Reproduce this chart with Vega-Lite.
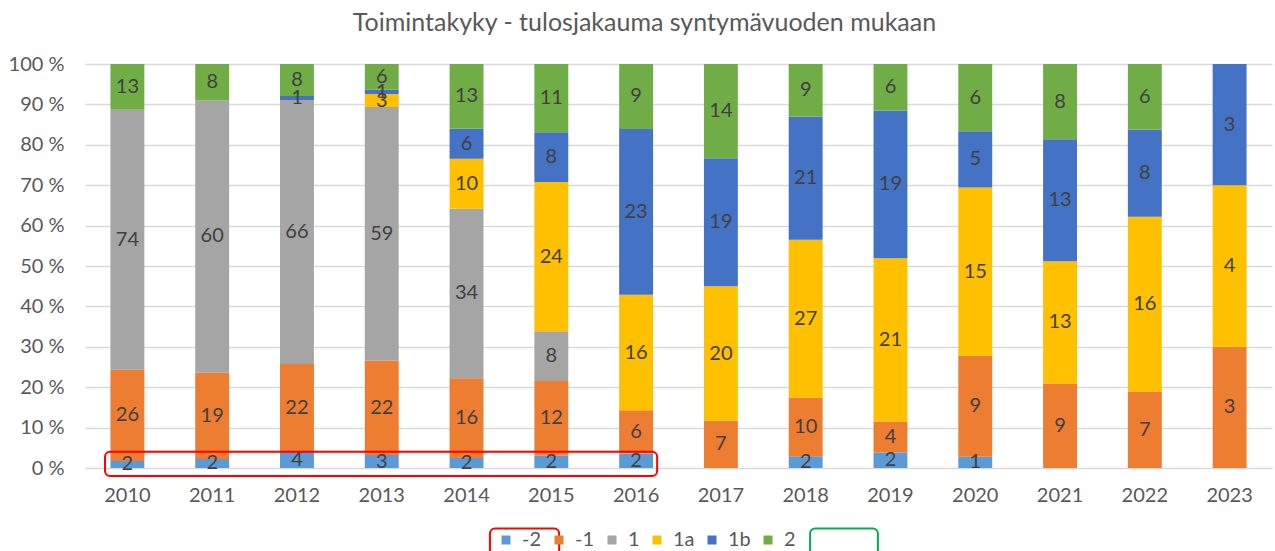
{
  "$schema": "https://vega.github.io/schema/vega-lite/v6.json",
  "width": 1187,
  "height": 404,
  "autosize": {"type": "none"},
  "padding": {"left": 85, "top": 64, "right": 3, "bottom": 83},
  "background": "white",
  "config": {
    "font": "Lato",
    "view": {"stroke": null}
  },
  "title": {
    "text": "Toimintakyky - tulosjakauma syntymävuoden mukaan",
    "fontSize": 25,
    "fontWeight": "normal",
    "color": "#595959",
    "anchor": "middle",
    "dx": -34,
    "offset": 18
  },
  "datasets": {
    "main": [
      {"year": "2010", "s": "-2", "o": 1, "n": 2},
      {"year": "2010", "s": "-1", "o": 2, "n": 26},
      {"year": "2010", "s": "1", "o": 3, "n": 74},
      {"year": "2010", "s": "2", "o": 6, "n": 13},
      {"year": "2011", "s": "-2", "o": 1, "n": 2},
      {"year": "2011", "s": "-1", "o": 2, "n": 19},
      {"year": "2011", "s": "1", "o": 3, "n": 60},
      {"year": "2011", "s": "2", "o": 6, "n": 8},
      {"year": "2012", "s": "-2", "o": 1, "n": 4},
      {"year": "2012", "s": "-1", "o": 2, "n": 22},
      {"year": "2012", "s": "1", "o": 3, "n": 66},
      {"year": "2012", "s": "1b", "o": 5, "n": 1},
      {"year": "2012", "s": "2", "o": 6, "n": 8},
      {"year": "2013", "s": "-2", "o": 1, "n": 3},
      {"year": "2013", "s": "-1", "o": 2, "n": 22},
      {"year": "2013", "s": "1", "o": 3, "n": 59},
      {"year": "2013", "s": "1a", "o": 4, "n": 3},
      {"year": "2013", "s": "1b", "o": 5, "n": 1},
      {"year": "2013", "s": "2", "o": 6, "n": 6},
      {"year": "2014", "s": "-2", "o": 1, "n": 2},
      {"year": "2014", "s": "-1", "o": 2, "n": 16},
      {"year": "2014", "s": "1", "o": 3, "n": 34},
      {"year": "2014", "s": "1a", "o": 4, "n": 10},
      {"year": "2014", "s": "1b", "o": 5, "n": 6},
      {"year": "2014", "s": "2", "o": 6, "n": 13},
      {"year": "2015", "s": "-2", "o": 1, "n": 2},
      {"year": "2015", "s": "-1", "o": 2, "n": 12},
      {"year": "2015", "s": "1", "o": 3, "n": 8},
      {"year": "2015", "s": "1a", "o": 4, "n": 24},
      {"year": "2015", "s": "1b", "o": 5, "n": 8},
      {"year": "2015", "s": "2", "o": 6, "n": 11},
      {"year": "2016", "s": "-2", "o": 1, "n": 2},
      {"year": "2016", "s": "-1", "o": 2, "n": 6},
      {"year": "2016", "s": "1a", "o": 4, "n": 16},
      {"year": "2016", "s": "1b", "o": 5, "n": 23},
      {"year": "2016", "s": "2", "o": 6, "n": 9},
      {"year": "2017", "s": "-1", "o": 2, "n": 7},
      {"year": "2017", "s": "1a", "o": 4, "n": 20},
      {"year": "2017", "s": "1b", "o": 5, "n": 19},
      {"year": "2017", "s": "2", "o": 6, "n": 14},
      {"year": "2018", "s": "-2", "o": 1, "n": 2},
      {"year": "2018", "s": "-1", "o": 2, "n": 10},
      {"year": "2018", "s": "1a", "o": 4, "n": 27},
      {"year": "2018", "s": "1b", "o": 5, "n": 21},
      {"year": "2018", "s": "2", "o": 6, "n": 9},
      {"year": "2019", "s": "-2", "o": 1, "n": 2},
      {"year": "2019", "s": "-1", "o": 2, "n": 4},
      {"year": "2019", "s": "1a", "o": 4, "n": 21},
      {"year": "2019", "s": "1b", "o": 5, "n": 19},
      {"year": "2019", "s": "2", "o": 6, "n": 6},
      {"year": "2020", "s": "-2", "o": 1, "n": 1},
      {"year": "2020", "s": "-1", "o": 2, "n": 9},
      {"year": "2020", "s": "1a", "o": 4, "n": 15},
      {"year": "2020", "s": "1b", "o": 5, "n": 5},
      {"year": "2020", "s": "2", "o": 6, "n": 6},
      {"year": "2021", "s": "-1", "o": 2, "n": 9},
      {"year": "2021", "s": "1a", "o": 4, "n": 13},
      {"year": "2021", "s": "1b", "o": 5, "n": 13},
      {"year": "2021", "s": "2", "o": 6, "n": 8},
      {"year": "2022", "s": "-1", "o": 2, "n": 7},
      {"year": "2022", "s": "1a", "o": 4, "n": 16},
      {"year": "2022", "s": "1b", "o": 5, "n": 8},
      {"year": "2022", "s": "2", "o": 6, "n": 6},
      {"year": "2023", "s": "-1", "o": 2, "n": 3},
      {"year": "2023", "s": "1a", "o": 4, "n": 4},
      {"year": "2023", "s": "1b", "o": 5, "n": 3}
    ]
  },
  "layer": [
    {
      "data": {"name": "main"},
      "mark": {"type": "bar"},
      "encoding": {
        "x": {
          "field": "year",
          "type": "nominal",
          "scale": {"paddingInner": 0.6, "paddingOuter": 0.3},
          "axis": {
            "title": null,
            "labelAngle": 0,
            "labelFontSize": 20,
            "labelColor": "#595959",
            "labelPadding": 17,
            "ticks": false,
            "domain": true,
            "domainColor": "#d9d9d9",
            "grid": false
          }
        },
        "y": {
          "field": "n",
          "type": "quantitative",
          "stack": "normalize",
          "scale": {"domain": [0, 1], "nice": false},
          "axis": {
            "title": null,
            "values": [0, 0.1, 0.2, 0.3, 0.4, 0.5, 0.6, 0.7, 0.8, 0.9, 1],
            "labelExpr": "round(datum.value*100) + ' %'",
            "labelFontSize": 20,
            "labelColor": "#595959",
            "labelPadding": 21,
            "ticks": false,
            "domain": false,
            "grid": true,
            "gridColor": "#d9d9d9",
            "gridWidth": 1.3
          }
        },
        "color": {
          "field": "s",
          "type": "nominal",
          "scale": {
            "domain": ["-2", "-1", "1", "1a", "1b", "2"],
            "range": ["#5B9BD5", "#ED7D31", "#A5A5A5", "#FFC000", "#4472C4", "#70AD47"]
          },
          "legend": {
            "title": null,
            "orient": "none",
            "direction": "horizontal",
            "legendX": 411,
            "legendY": 466,
            "symbolType": "square",
            "symbolSize": 81,
            "symbolStrokeWidth": 0,
            "labelFontSize": 20,
            "labelColor": "#595959",
            "labelOffset": 6,
            "columnPadding": 7
          }
        },
        "order": {"field": "o", "type": "quantitative"}
      }
    },
    {
      "data": {"name": "main"},
      "mark": {"type": "text", "fontSize": 20, "color": "#404040", "baseline": "middle"},
      "encoding": {
        "x": {"field": "year", "type": "nominal"},
        "y": {"field": "n", "type": "quantitative", "stack": "normalize", "bandPosition": 0.5},
        "detail": {"field": "s", "type": "nominal"},
        "order": {"field": "o", "type": "quantitative"},
        "text": {"field": "n", "type": "quantitative"}
      }
    },
    {
      "data": {"values": [{"a": "2010", "b": "2016", "lo": -0.02, "hi": 0.04}]},
      "mark": {"type": "rect", "fill": null, "stroke": "#FF0000", "strokeWidth": 2, "cornerRadius": 5},
      "encoding": {
        "x": {"field": "a", "type": "nominal", "bandPosition": -0.16},
        "x2": {"field": "b", "bandPosition": 1.12},
        "y": {"field": "lo", "type": "quantitative"},
        "y2": {"field": "hi"}
      }
    },
    {
      "data": {"values": [{"a": "2014", "b": "2015", "lo": -0.3, "hi": -0.15}]},
      "mark": {"type": "rect", "fill": null, "stroke": "#FF0000", "strokeWidth": 2, "cornerRadius": 5},
      "encoding": {
        "x": {"field": "a", "type": "nominal", "bandPosition": 1.19},
        "x2": {"field": "b", "bandPosition": 0.73},
        "y": {"field": "lo", "type": "quantitative"},
        "y2": {"field": "hi"}
      }
    },
    {
      "data": {"values": [{"a": "2018", "b": "2019", "lo": -0.3, "hi": -0.15}]},
      "mark": {"type": "rect", "fill": null, "stroke": "#00B050", "strokeWidth": 2, "cornerRadius": 5},
      "encoding": {
        "x": {"field": "a", "type": "nominal", "bandPosition": 0.63},
        "x2": {"field": "b", "bandPosition": 0.13},
        "y": {"field": "lo", "type": "quantitative"},
        "y2": {"field": "hi"}
      }
    }
  ]
}
